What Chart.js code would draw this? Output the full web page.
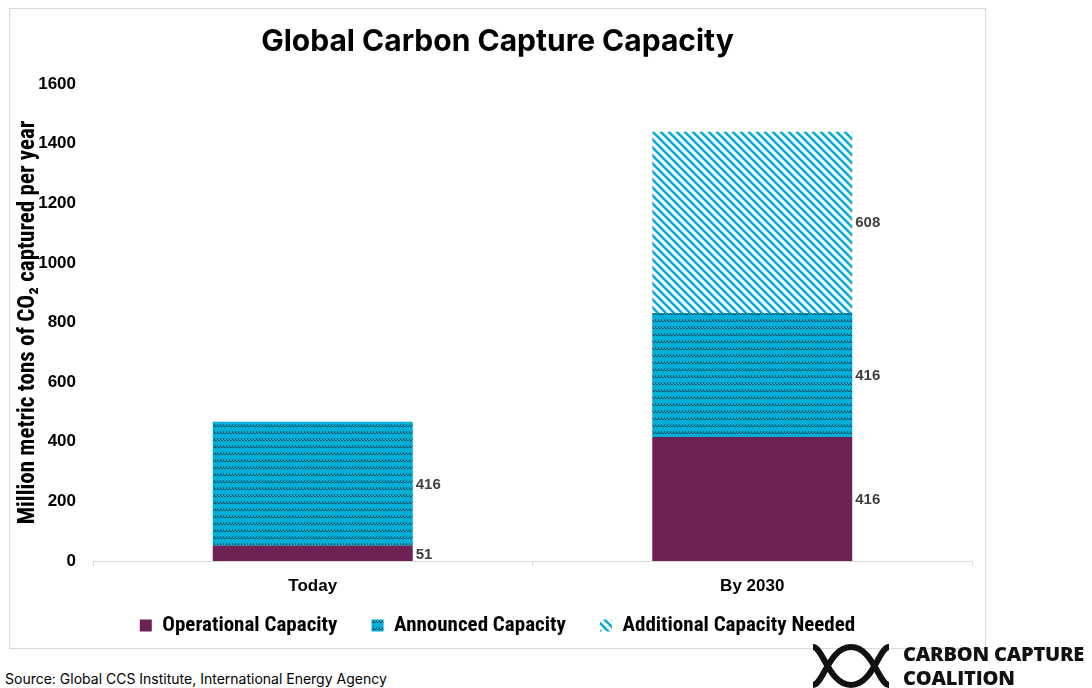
<!DOCTYPE html>
<html lang="en">
<head>
    <meta charset="UTF-8">
    <title>Global Carbon Capture Capacity</title>
    <style>
        body { margin: 0; background: #fff; width: 1092px; height: 688px; position: relative; overflow: hidden; }
        #box { position: absolute; left: 9px; top: 8px; width: 975px; height: 639px; border: 1px solid #d9d9d9; }
        #source { position: absolute; left: 5px; top: 670px; font: 14px Inter, 'Open Sans', sans-serif; color: #000; }
        #logo { position: absolute; left: 811px; top: 643px; }
        #logoText { position: absolute; left: 903px; top: 642px; font: 800 20px 'Open Sans', Lato, sans-serif; line-height: 24px; color: #111; letter-spacing: -0.2px; }
    </style>
</head>
<body>
    <div id="box"><canvas id="chart"></canvas></div>
    <div id="source">Source: Global CCS Institute, International Energy Agency</div>
    <svg id="logo" width="82" height="50" viewBox="0 0 82 50">
        <path d="M2 4 C12 4 18 42 40 42 C62 42 68 4 78 4" fill="none" stroke="#111" stroke-width="6"/>
        <path d="M2 42 C12 42 18 4 40 4 C62 4 68 42 78 42" fill="none" stroke="#111" stroke-width="6"/>
    </svg>
    <div id="logoText">CARBON CAPTURE<br>COALITION</div>

    <script src="https://cdn.jsdelivr.net/npm/chart.js@4"></script>
    <script>
        // dados
        const categories = ['Today', 'By 2030'];
        const operational = [51, 416];
        const announced = [416, 416];
        const additional = [0, 608];
        const yTicks = [0, 200, 400, 600, 800, 1000, 1200, 1400, 1600];

        const PLUM = '#6d2154';
        const CYAN = '#00afd8';
        const NARROW = "'Liberation Sans Narrow', 'Roboto Condensed', Roboto, sans-serif";
        const SANS = "'Liberation Sans', Arial, sans-serif";

        // padrão de listras diagonais (capacidade adicional)
        function stripePattern() {
            const c = document.createElement('canvas');
            c.width = 8; c.height = 8;
            const g = c.getContext('2d');
            g.fillStyle = '#fff';
            g.fillRect(0, 0, 8, 8);
            g.strokeStyle = CYAN;
            g.lineWidth = 2.6;
            g.beginPath();
            g.moveTo(-2, -2); g.lineTo(10, 10);
            g.moveTo(-2, 6); g.lineTo(2, 10);
            g.moveTo(6, -2); g.lineTo(10, 2);
            g.stroke();
            return g.createPattern(c, 'repeat');
        }

        // padrão com pequenos traços escuros (capacidade anunciada)
        function dashPattern() {
            const c = document.createElement('canvas');
            c.width = 3; c.height = 7;
            const g = c.getContext('2d');
            g.fillStyle = CYAN;
            g.fillRect(0, 0, 3, 7);
            g.fillStyle = '#103f52';
            g.fillRect(0, 3, 1, 1);
            g.fillRect(1, 4, 1, 1);
            g.fillStyle = 'rgba(16,63,82,0.6)';
            g.fillRect(2, 4, 1, 1);
            g.fillRect(0, 2, 1, 1);
            return g.createPattern(c, 'repeat');
        }

        // rótulos de valor à direita de cada segmento
        const valueLabels = {
            id: 'valueLabels',
            afterDatasetsDraw(chart) {
                const ctx = chart.ctx;
                ctx.save();
                ctx.font = 'bold 15px ' + SANS;
                ctx.fillStyle = '#404040';
                ctx.textAlign = 'left';
                ctx.textBaseline = 'middle';
                chart.data.datasets.forEach((ds, di) => {
                    chart.getDatasetMeta(di).data.forEach((bar, i) => {
                        const v = ds.data[i];
                        if (!v) return;
                        ctx.fillText(String(v), bar.x + bar.width / 2 + 3, (bar.y + bar.base) / 2 + 1);
                    });
                });
                ctx.restore();
            }
        };

        new Chart(document.getElementById('chart'), {
            type: 'bar',
            data: {
                labels: categories,
                datasets: [
                    { label: 'Operational Capacity', data: operational, backgroundColor: PLUM, borderWidth: 0 },
                    { label: 'Announced Capacity', data: announced, backgroundColor: dashPattern(), borderWidth: 0 },
                    { label: 'Additional Capacity Needed', data: additional, backgroundColor: stripePattern(), borderWidth: 0 }
                ]
            },
            options: {
                responsive: true,
                maintainAspectRatio: false,
                animation: false,
                layout: { padding: { left: 13, right: 13, top: 0, bottom: 2 } },
                datasets: { bar: { barPercentage: 0.455, categoryPercentage: 1 } },
                plugins: {
                    title: {
                        display: true,
                        text: 'Global Carbon Capture Capacity',
                        color: '#000',
                        font: { family: "Inter, 'Open Sans', sans-serif", size: 30, weight: 'bold' },
                        padding: { top: 15, bottom: 24 }
                    },
                    legend: {
                        position: 'bottom',
                        labels: {
                            color: '#000',
                            font: { family: NARROW, size: 21, weight: 'bold' },
                            boxWidth: 12,
                            boxHeight: 12,
                            padding: 10,
                            // espaço extra entre os itens da legenda
                            generateLabels(chart) {
                                const items = Chart.defaults.plugins.legend.labels.generateLabels(chart);
                                items.forEach((it, i) => {
                                    if (i < items.length - 1) it.text += '     ';
                                });
                                return items;
                            }
                        }
                    },
                    tooltip: { enabled: false }
                },
                scales: {
                    x: {
                        stacked: true,
                        grid: { drawOnChartArea: false, drawTicks: true, tickLength: 5, color: '#d9d9d9' },
                        border: { color: '#d9d9d9' },
                        ticks: { color: '#000', font: { family: SANS, size: 17, weight: 'bold' }, padding: 10 },
                        afterFit(scale) { scale.height = 44; }
                    },
                    y: {
                        stacked: true,
                        min: 0,
                        max: 1600,
                        grid: { display: false, drawTicks: false },
                        border: { display: false },
                        afterBuildTicks(scale) { scale.ticks = yTicks.map(v => ({ value: v })); },
                        ticks: {
                            color: '#000',
                            font: { family: SANS, size: 17, weight: 'bold' },
                            padding: 17,
                            callback: v => String(v)
                        },
                        title: {
                            display: true,
                            text: 'Million metric tons of CO\u2082 captured per year',
                            color: '#000',
                            font: { family: NARROW, size: 23, weight: 'bold' },
                            padding: { top: -9, bottom: 0 }
                        },
                        afterFit(scale) { scale.width = 70; }
                    }
                }
            },
            plugins: [valueLabels]
        });
    </script>
</body>
</html>
